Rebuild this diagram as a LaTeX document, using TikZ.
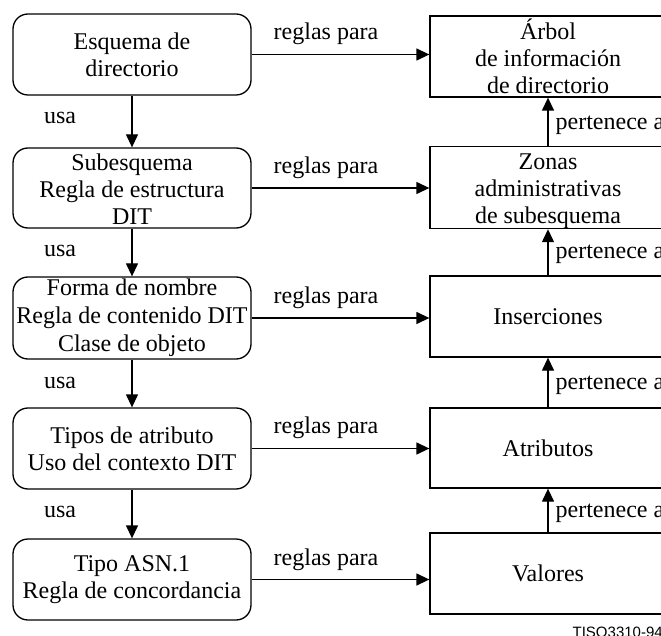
\documentclass[tikz,border=0pt]{standalone}
\usepackage{fontspec}
\setmainfont{Liberation Serif}
\newfontfamily\tagfont{Liberation Sans}
\usetikzlibrary{arrows.meta}
\begin{document}
\begin{tikzpicture}[x=1pt,y=-1pt,
  line width=1.3pt,
  txt/.style={font=\fontsize{24}{27}\selectfont},
  leftbox/.style={txt,draw,rounded corners=15pt,minimum width=238pt,inner sep=0pt,align=center},
  rightbox/.style={txt,draw,minimum width=236pt,inner sep=0pt,align=center},
  lbl/.style={txt,inner sep=0pt},
  arr/.style={-{Triangle[length=13pt,width=12pt]}}]
\useasboundingbox (0,0) rectangle (661,636);

% schema definitions (left column)
\node[leftbox,minimum height=81pt] (b1) at (132,54.5) {Esquema de\\directorio};
\node[leftbox,minimum height=80pt] (b2) at (132,188) {\rule{0pt}{20pt}Subesquema\\Regla de estructura\\DIT};
\node[leftbox,minimum height=82pt,font=\fontsize{24}{28}\selectfont] (b3) at (132,318) {Forma de nombre\\Regla de contenido DIT\\Clase de objeto};
\node[leftbox,minimum height=81pt] (b4) at (132,448.5) {Tipos de atributo\\Uso del contexto DIT};
\node[leftbox,minimum height=81pt] (b5) at (132,579.5) {Tipo ASN.1\\Regla de concordancia};

% directory information (right column)
\node[rightbox,minimum height=81pt] (r1) at (548,56.5) {Árbol\\de información\\de directorio};
\node[rightbox,minimum height=79pt] (r2) at (548,187.5) {\rule{0pt}{23pt}Zonas\\administrativas\\de subesquema};
\node[rightbox,minimum height=81pt] (r3) at (548,316.5) {Inserciones};
\node[rightbox,minimum height=80pt] (r4) at (548,448) {Atributos};
\node[rightbox,minimum height=81pt] (r5) at (548,573.5) {Valores};

% "usa" links down the left column
\foreach \a/\b in {b1/b2,b2/b3,b3/b4,b4/b5} \draw[arr] (\a.south) -- (\b.north);
\node[lbl] (u1) at (60,118) {usa};
\node[lbl] (u2) at (60,251) {usa};
\node[lbl] (u3) at (60,383) {usa};
\node[lbl] (u4) at (60,512) {usa};

% "pertenece a" links up the right column
\foreach \a/\b in {r2/r1,r3/r2,r4/r3,r5/r4} \draw[arr] (\a.north) -- (\b.south);
\node[lbl,anchor=west] (p1) at (555,125) {pertenece a};
\node[lbl,anchor=west] (p2) at (555,254) {pertenece a};
\node[lbl,anchor=west] (p3) at (555,385) {pertenece a};
\node[lbl,anchor=west] (p4) at (555,513) {pertenece a};

% "reglas para" links across
\foreach \i in {1,...,5} \draw[arr] (b\i.east) -- (b\i.east -| r\i.west);
\node[lbl] (g1) at (326,34) {reglas para};
\node[lbl] (g2) at (326,168) {reglas para};
\node[lbl] (g3) at (326,298) {reglas para};
\node[lbl] (g4) at (326,428) {reglas para};
\node[lbl] (g5) at (326,560) {reglas para};

\node[font=\tagfont\fontsize{15}{15}\selectfont,anchor=base west,inner sep=0pt] (tag) at (572,637) {TISO3310-94};
\end{tikzpicture}
\end{document}
